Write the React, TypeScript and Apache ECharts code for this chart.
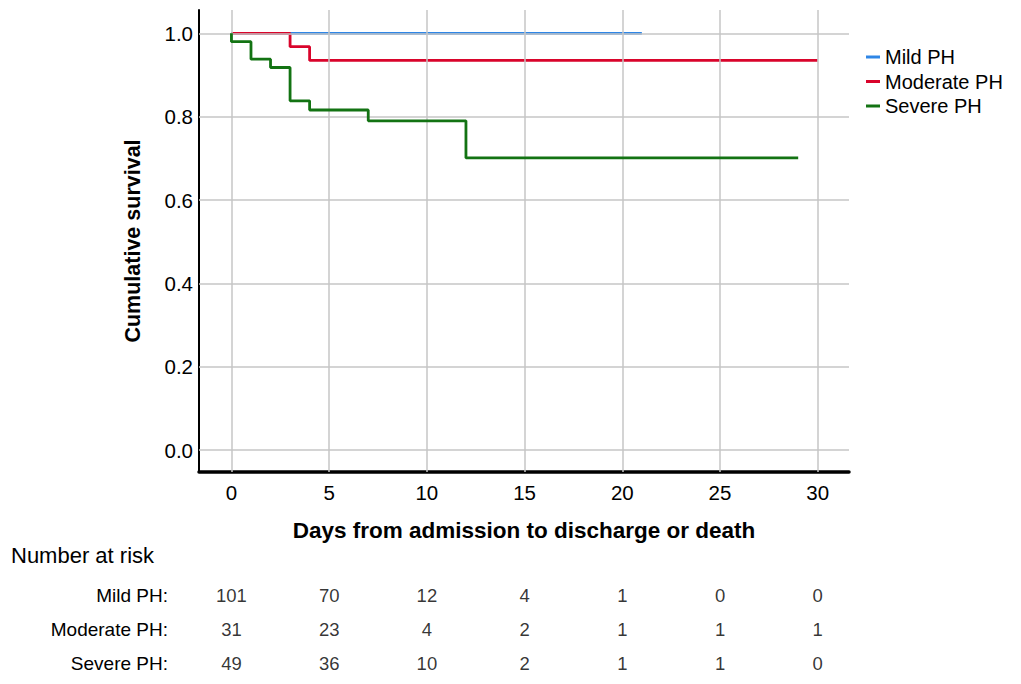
import React, { useEffect, useRef } from "react";
import * as echarts from "echarts";

const FONT = "'Liberation Sans', Arial, sans-serif";

const groups = ["Mild PH", "Moderate PH", "Severe PH"];
const colors = ["#2f86e6", "#d9042b", "#137313"];

const xTicks = [0, 5, 10, 15, 20, 25, 30];
const yTicks = [0, 0.2, 0.4, 0.6, 0.8, 1.0];

const mildDays = [0, 21];
const mildSurv = [1, 1];
const moderateDays = [0, 3, 4, 30];
const moderateSurv = [1, 0.968, 0.935, 0.935];
const severeDays = [0, 0, 1, 2, 3, 4, 7, 12, 29];
const severeSurv = [1, 0.98, 0.938, 0.918, 0.838, 0.816, 0.79, 0.701, 0.701];

const riskRows = ["Mild PH:", "Moderate PH:", "Severe PH:"];
const riskDays = [0, 5, 10, 15, 20, 25, 30];
const mildRisk = [101, 70, 12, 4, 1, 0, 0];
const moderateRisk = [31, 23, 4, 2, 1, 1, 1];
const severeRisk = [49, 36, 10, 2, 1, 1, 0];

const xMin = -1.66;
const xMax = 31.6;

function pairs(days: number[], vals: number[]) {
  return days.map((d, i) => [d, vals[i]]);
}

export default function App() {
  const ref = useRef<HTMLDivElement>(null);
  useEffect(() => {
    if (!ref.current) return;
    const chart = echarts.init(ref.current, null, { renderer: "svg" });
    const riskData: any[] = [];
    [mildRisk, moderateRisk, severeRisk].forEach((row, r) => {
      row.forEach((v, i) => riskData.push([riskDays[i], r, v]));
    });
    const option: any = {
      animation: false,
      textStyle: { fontFamily: FONT, color: "#000" },
      grid: [
        { left: 199, right: 172, top: 10, bottom: 212 },
        { left: 199, right: 172, top: 579, height: 101 },
      ],
      legend: {
        data: groups,
        orient: "vertical",
        left: 861,
        top: 42,
        icon: "rect",
        itemWidth: 14,
        itemHeight: 3,
        itemGap: 4.5,
        textStyle: { fontSize: 20, color: "#000", fontFamily: FONT },
      },
      xAxis: [
        {
          gridIndex: 0,
          type: "value",
          min: xMin,
          max: xMax,
          name: "Days from admission to discharge or death",
          nameLocation: "middle",
          nameGap: 47,
          nameTextStyle: { fontSize: 22.5, fontWeight: "bold", color: "#000", fontFamily: FONT },
          axisLine: { show: true, onZero: false, lineStyle: { color: "#000", width: 3.5 } },
          axisTick: { show: false },
          splitLine: { show: false },
          axisLabel: { customValues: xTicks, fontSize: 20.5, color: "#000", margin: 10, fontFamily: FONT },
        },
        { gridIndex: 1, type: "value", min: xMin, max: xMax, show: false },
      ],
      yAxis: [
        {
          gridIndex: 0,
          type: "value",
          min: -0.0528,
          max: 1.056,
          name: "Cumulative survival",
          nameLocation: "middle",
          nameGap: 55,
          nameTextStyle: { fontSize: 21.5, fontWeight: "bold", color: "#000", fontFamily: FONT },
          axisLine: { show: true, onZero: false, lineStyle: { color: "#000", width: 2 } },
          axisTick: { show: false },
          splitLine: { show: false },
          axisLabel: {
            customValues: yTicks,
            fontSize: 20.5,
            color: "#000",
            margin: 6,
            fontFamily: FONT,
            formatter: (v: number) => v.toFixed(1),
          },
        },
        {
          gridIndex: 1,
          type: "category",
          data: riskRows,
          inverse: true,
          axisLine: { show: false },
          axisTick: { show: false },
          splitLine: { show: false },
          axisLabel: { fontSize: 19, color: "#000", margin: 31, fontFamily: FONT },
        },
      ],
      graphic: [
        {
          type: "text",
          left: 11,
          top: 544,
          style: { text: "Number at risk", fontSize: 22, fill: "#000", fontFamily: FONT },
        },
      ],
      series: [
        {
          type: "line",
          xAxisIndex: 0,
          yAxisIndex: 0,
          data: [],
          z: 1,
          silent: true,
          markLine: {
            silent: true,
            symbol: "none",
            label: { show: false },
            lineStyle: { color: "#c6c6c6", width: 1.5, type: "solid" },
            data: [
              ...xTicks.map((v) => ({ xAxis: v })),
              ...yTicks.map((v) => ({ yAxis: v })),
            ],
          },
        },
        {
          name: groups[0],
          type: "line",
          step: "end",
          symbol: "none",
          data: pairs(mildDays, mildSurv),
          lineStyle: { color: colors[0], width: 2.8 },
          itemStyle: { color: colors[0] },
          z: 3,
        },
        {
          name: groups[1],
          type: "line",
          step: "end",
          symbol: "none",
          data: pairs(moderateDays, moderateSurv),
          lineStyle: { color: colors[1], width: 2.8 },
          itemStyle: { color: colors[1] },
          z: 4,
        },
        {
          name: groups[2],
          type: "line",
          step: "end",
          symbol: "none",
          data: pairs(severeDays, severeSurv),
          lineStyle: { color: colors[2], width: 2.8 },
          itemStyle: { color: colors[2] },
          z: 5,
        },
        {
          type: "scatter",
          xAxisIndex: 1,
          yAxisIndex: 1,
          symbolSize: 1,
          itemStyle: { color: "rgba(0,0,0,0)" },
          silent: true,
          data: riskData,
          encode: { x: 0, y: 1 },
          label: {
            show: true,
            position: "inside",
            fontSize: 18.5,
            color: "#000",
            fontFamily: FONT,
            formatter: (p: any) => String(p.value[2]),
          },
        },
      ],
    };
    chart.setOption(option);
    return () => chart.dispose();
  }, []);
  return (
    <div
      ref={ref}
      style={{ position: "fixed", left: 0, top: 0, width: 1021, height: 684, background: "#fff" }}
    />
  );
}
